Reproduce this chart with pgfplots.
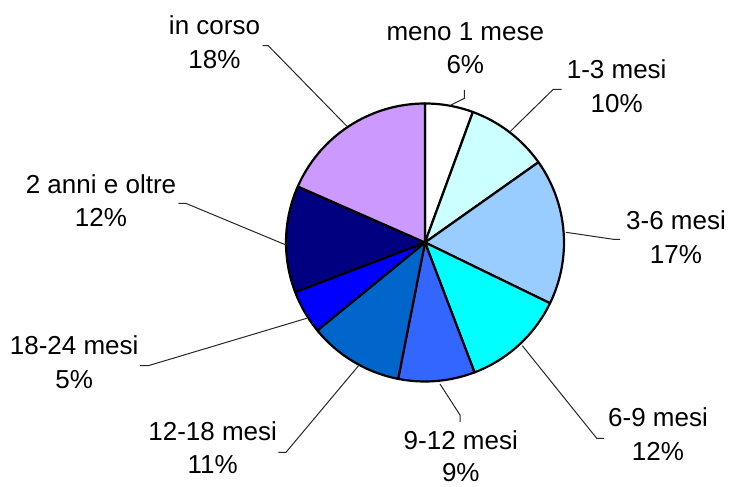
\documentclass[border=0pt]{standalone}
\usepackage{pgfplots}
\pgfplotsset{compat=1.18}
\usepackage{pgfplotstable}
\usepackage{fontspec}
\setmainfont{Liberation Sans}
\definecolor{pc0}{HTML}{FFFFFF}
\definecolor{pc1}{HTML}{CCFFFF}
\definecolor{pc2}{HTML}{99CCFF}
\definecolor{pc3}{HTML}{00FFFF}
\definecolor{pc4}{HTML}{3366FF}
\definecolor{pc5}{HTML}{0066CC}
\definecolor{pc6}{HTML}{0000FF}
\definecolor{pc7}{HTML}{000080}
\definecolor{pc8}{HTML}{CC99FF}
\tikzset{lbl/.style={anchor=base, inner sep=0pt, text=black, font=\fontsize{13}{16}\selectfont}}
\pgfplotstableread{
idx value
0 5.6
1 9.6
2 17.0
3 12.0
4 8.9
5 11.0
6 5.1
7 12.4
8 18.4
}\piedata
\begin{document}
\begin{tikzpicture}
\pgfmathsetmacro\cum{0}
\pgfplotsforeachungrouped \i in {0,...,8}{%
  \pgfplotstablegetelem{\i}{value}\of\piedata
  \pgfmathsetmacro\pa{90-3.6*\cum}%
  \pgfmathsetmacro\cum{\cum+\pgfplotsretval}%
  \pgfmathsetmacro\pb{90-3.6*\cum}%
  \expandafter\xdef\csname pieA\i\endcsname{\pa}%
  \expandafter\xdef\csname pieB\i\endcsname{\pb}%
}
\begin{axis}[hide axis, x=0.5pt, y=0.5pt, xmin=0, xmax=730, ymin=0, ymax=487,
  scale only axis, enlargelimits=false, clip=false]
\path (axis cs:0,0) rectangle (axis cs:730,487);
\pgfplotsinvokeforeach{0,...,8}{%
  \edef\temp{\noexpand\filldraw[fill=pc#1, draw=black, line width=1.1pt, line join=round]
    (axis cs:425,244.5) -- ++(\csname pieA#1\endcsname:69.5pt)
    arc[start angle=\csname pieA#1\endcsname, end angle=\csname pieB#1\endcsname, radius=69.5pt] -- cycle;}%
  \temp
}
% leader lines (y = 487 - pixel row)
\begin{scope}[black!85, line width=0.5pt]
\draw (axis cs:262.7,441.3) -- (axis cs:268.3,441.3) -- (axis cs:346.7,361);
\draw (axis cs:464.3,397) -- (axis cs:464.3,388.7) -- (axis cs:451,382);
\draw (axis cs:561.7,397.7) -- (axis cs:553.3,397.7) -- (axis cs:510,355.3);
\draw (axis cs:620,247.7) -- (axis cs:613.3,247.7) -- (axis cs:566,254.7);
\draw (axis cs:604,48.7) -- (axis cs:596.7,48.7) -- (axis cs:522.3,141.3);
\draw (axis cs:460,65) -- (axis cs:460,72) -- (axis cs:440,103);
\draw (axis cs:278.3,34.7) -- (axis cs:286,34.7) -- (axis cs:358.3,121);
\draw (axis cs:140,121.3) -- (axis cs:148.3,121.3) -- (axis cs:306.7,168.7);
\draw (axis cs:178.3,283.7) -- (axis cs:185.7,283.7) -- (axis cs:286,242);
\end{scope}
% labels
\node[lbl] at (axis cs:214.5,452) {in corso};
\node[lbl] at (axis cs:214.5,418.5) {18\%};
\node[lbl] at (axis cs:465.3,446.3) {meno 1 mese};
\node[lbl] at (axis cs:465.3,413) {6\%};
\node[lbl] at (axis cs:616.7,408) {1-3 mesi};
\node[lbl] at (axis cs:616.7,374.7) {10\%};
\node[lbl] at (axis cs:676,257) {3-6 mesi};
\node[lbl] at (axis cs:676,223.7) {17\%};
\node[lbl] at (axis cs:658,60.3) {6-9 mesi};
\node[lbl] at (axis cs:658,26.7) {12\%};
\node[lbl] at (axis cs:460.8,37) {9-12 mesi};
\node[lbl] at (axis cs:460.8,5) {9\%};
\node[lbl] at (axis cs:212.7,46.3) {12-18 mesi};
\node[lbl] at (axis cs:212.7,13) {11\%};
\node[lbl] at (axis cs:74.2,132) {18-24 mesi};
\node[lbl] at (axis cs:74.2,98.7) {5\%};
\node[lbl] at (axis cs:101,293.7) {2 anni e oltre};
\node[lbl] at (axis cs:101,260.3) {12\%};
\end{axis}
\end{tikzpicture}
\end{document}
